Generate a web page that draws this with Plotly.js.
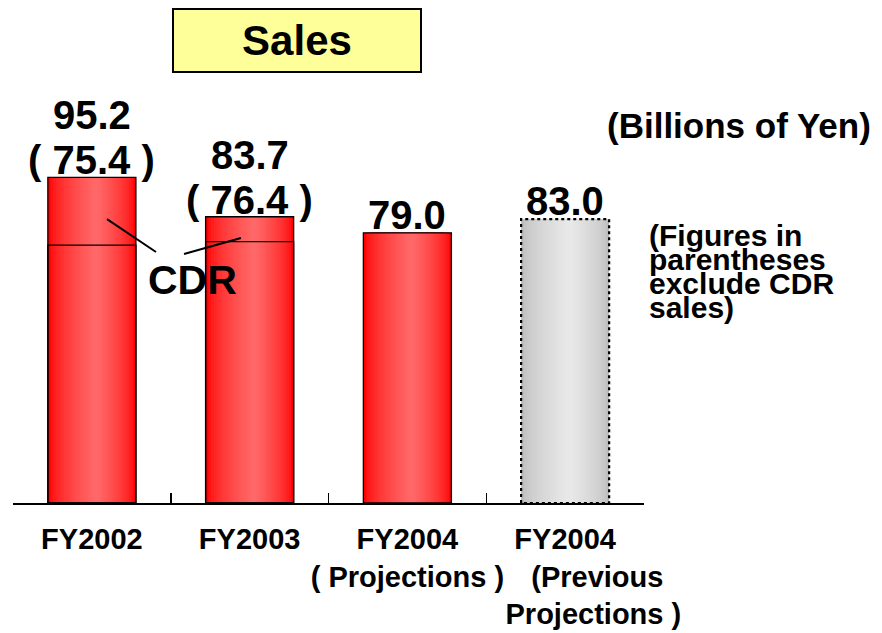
<!DOCTYPE html>
<html>
<head>
<meta charset="utf-8">
<script src="https://cdn.plot.ly/plotly-3.0.1.min.js"></script>
<style>html,body{margin:0;padding:0;background:#fff;}#chart{width:882px;height:633px;}</style>
</head>
<body>
<div id="chart"></div>
<script>
// ---- data ----
const categories = ['FY2002', 'FY2003', 'FY2004<br>( Projections )',
  'FY2004<br>\u00a0\u00a0\u00a0\u00a0\u00a0\u00a0\u00a0\u00a0(Previous<br>\u00a0\u00a0\u00a0\u00a0\u00a0\u00a0\u00a0Projections )'];
const sales = [95.2, 83.7, 79.0, 83.0];
const salesExCDR = [75.4, 76.4, null, null];
const valueLabels = ['95.2', '83.7', '79.0', '83.0'];
const exCDRLabels = ['( 75.4 )', '( 76.4 )', '', ''];
const isPrevious = [false, false, false, true];

// ---- styling ----
const FONT = 'Liberation Sans, Arial, sans-serif';
const W = 0.558, N = 18, PEAK = 0.55;
const idx = categories.map((_, i) => i);
const actualIdx = idx.filter(i => !isPrevious[i]);
const prevIdx = idx.filter(i => isPrevious[i]);

function mix(a, b, t) {
  return 'rgb(' + a.map((v, j) => Math.round(v + (b[j] - v) * t)).join(',') + ')';
}
const redEdge = [255, 0, 0], redCenter = [255, 108, 108];
const grayEdge = [188, 188, 188], grayCenter = [234, 234, 234];

const traces = [];
for (let k = 0; k < N; k++) {
  const t = k / N;
  const s = Math.pow(t, 0.6);
  traces.push({
    type: 'bar', x: idx, y: sales,
    offset: -W / 2 + PEAK * W * t, width: W * (1 - t),
    marker: { color: isPrevious.map(p => p ? mix(grayEdge, grayCenter, s) : mix(redEdge, redCenter, s)), line: { width: 0 } },
    hoverinfo: 'skip', showlegend: false
  });
}
// outlines of actual bars
traces.push({
  type: 'bar', x: actualIdx, y: actualIdx.map(i => sales[i]),
  offset: -W / 2, width: W,
  marker: { color: 'rgba(0,0,0,0)', line: { color: '#000', width: 1.3 } },
  hoverinfo: 'skip', showlegend: false
});
// CDR split line (sales excluding CDR)
const exIdx = actualIdx.filter(i => salesExCDR[i] != null);
traces.push({
  type: 'bar', x: exIdx, y: exIdx.map(i => salesExCDR[i]),
  offset: -W / 2, width: W,
  marker: { color: 'rgba(0,0,0,0)', line: { color: '#000', width: 1.3 } },
  hoverinfo: 'skip', showlegend: false
});
// dotted outline of previous projection bar
prevIdx.forEach(i => {
  traces.push({
    type: 'scatter', mode: 'lines', xaxis: 'x2',
    x: [i - W / 2, i - W / 2, i + W / 2, i + W / 2, i - W / 2],
    y: [0, sales[i], sales[i], 0, 0],
    line: { color: '#000', width: 2.2, dash: 'dot' },
    cliponaxis: false, hoverinfo: 'skip', showlegend: false
  });
});

const annotations = [];
idx.forEach(i => {
  const hasEx = exCDRLabels[i] !== '';
  if (hasEx) {
    annotations.push({ x: i, y: sales[i], xref: 'x', yref: 'y', text: exCDRLabels[i], showarrow: false,
      yanchor: 'bottom', yshift: -7, font: { family: FONT, size: 40, color: '#000', weight: 'bold' } });
  }
  annotations.push({ x: i, y: sales[i], xref: 'x', yref: 'y', text: valueLabels[i], showarrow: false,
    yanchor: 'bottom', yshift: hasEx ? 38 : -6, font: { family: FONT, size: 40, color: '#000', weight: 'bold' } });
});
annotations.push({ x: 0.635, y: 72.5, xref: 'x', yref: 'y', text: 'CDR', showarrow: false,
  xanchor: 'center', yanchor: 'top', font: { family: FONT, size: 41, color: '#000', weight: 'bold' } });
annotations.push({ x: 0.450, y: 1.351, xref: 'paper', yref: 'paper', text: 'Sales', showarrow: false,
  xanchor: 'center', yanchor: 'middle', width: 244, height: 59, bgcolor: '#ffff99', bordercolor: '#000', borderwidth: 2, borderpad: 1,
  font: { family: FONT, size: 42, color: '#000', weight: 'bold' } });
annotations.push({ x: 1.363, y: 1.105, xref: 'paper', yref: 'paper', text: '(Billions of Yen)', showarrow: false,
  xanchor: 'right', yanchor: 'middle', font: { family: FONT, size: 35, color: '#000', weight: 'bold' } });
const noteLines = ['(Figures in', 'parentheses', 'exclude CDR', 'sales)'];
noteLines.forEach((ln, j) => {
  annotations.push({ x: 1.005, y: (503 - (235 + 24 * j)) / 342, xref: 'paper', yref: 'paper', text: ln, showarrow: false,
    xanchor: 'left', yanchor: 'middle', font: { family: FONT, size: 30, color: '#000', weight: 'bold' } });
});

const shapes = [
  { type: 'line', xref: 'x', yref: 'y', x0: 0.096, y0: 83.0, x1: 0.4065, y1: 73.4, line: { color: '#000', width: 2 } },
  { type: 'line', xref: 'x', yref: 'y', x0: 0.584, y0: 72.8, x1: 0.945, y1: 77.5, line: { color: '#000', width: 2 } }
];

const layout = {
  width: 882, height: 633,
  margin: { l: 13, r: 238, t: 161, b: 130 },
  paper_bgcolor: '#fff', plot_bgcolor: '#fff',
  barmode: 'overlay',
  showlegend: false,
  xaxis: {
    range: [-0.5, 3.5], fixedrange: true, showgrid: false, zeroline: false, showline: false,
    tickmode: 'array', tickvals: idx, ticktext: categories, ticks: '', tickangle: 0,
    ticklabelstandoff: 16,
    tickfont: { family: FONT, size: 29, color: '#000', weight: 'bold' }
  },
  xaxis2: {
    overlaying: 'x', anchor: 'y', side: 'bottom', range: [-0.5, 3.5], fixedrange: true,
    showgrid: false, zeroline: false, showline: true, linecolor: '#000', linewidth: 2,
    tickmode: 'array', tickvals: [-0.5, 0.5, 1.5, 2.5, 3.5], ticks: 'inside', ticklen: 10, tickwidth: 1.5, tickcolor: '#000',
    showticklabels: false
  },
  yaxis: { range: [0, 100], visible: false, fixedrange: true, showgrid: false, zeroline: false },
  annotations: annotations,
  shapes: shapes
};

Plotly.newPlot('chart', traces, layout, { displayModeBar: false, staticPlot: true });
</script>
</body>
</html>
